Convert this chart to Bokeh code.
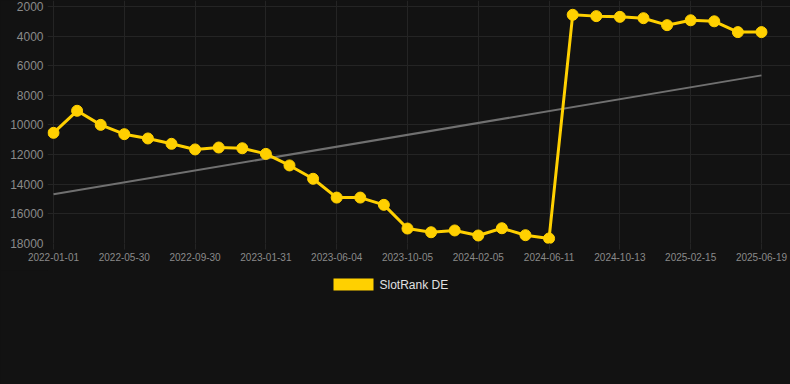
from bokeh.plotting import figure
from bokeh.layouts import column
from bokeh.models import (Range1d, FixedTicker, ColumnDataSource, Label, BoxAnnotation)
from bokeh.embed import file_html
from bokeh.resources import INLINE

# ---- data ----
tick_labels = ["2022-01-01", "2022-05-30", "2022-09-30", "2023-01-31", "2023-06-04",
               "2023-10-05", "2024-02-05", "2024-06-11", "2024-10-13", "2025-02-15",
               "2025-06-19"]
ranks = [10530, 9040, 9990, 10620, 10910, 11270, 11650, 11520, 11570, 11950,
         12730, 13630, 14900, 14900, 15390, 16990, 17240, 17120, 17460, 16970,
         17440, 17660, 2560, 2650, 2700, 2790, 3260, 2930, 3000, 3730, 3730]
trend_values = [14680, 6650]
y_ticks = [2000, 4000, 6000, 8000, 10000, 12000, 14000, 16000, 18000]
series_name = "SlotRank DE"

idx = list(range(len(ranks)))
tick_idx = idx[::3]
trend_idx = [idx[0], idx[-1]]

BG = "#121212"
GRID = "#242424"
YELLOW = "#FFD000"
FONT = "Liberation Sans"

p = figure(frame_width=743, frame_height=243, output_backend="svg", toolbar_location=None,
           x_range=Range1d(-0.254, 31.23), y_range=Range1d(18000, 1595),
           min_border_left=47, min_border_right=0, min_border_top=0,
           min_border_bottom=27)
p.background_fill_color = BG
p.border_fill_color = BG
p.outline_line_color = None

# axes
p.xaxis.ticker = FixedTicker(ticks=tick_idx)
p.xaxis.major_label_overrides = {i: lab for i, lab in zip(tick_idx, tick_labels)}
p.xaxis.major_label_text_font = FONT
p.xaxis.major_label_text_font_size = "10px"
p.xaxis.major_label_text_color = "#8a8a8a"
p.xaxis.axis_line_color = None
p.xaxis.major_tick_out = 6
p.xaxis.major_tick_in = 0
p.xaxis.major_tick_line_color = GRID
p.xaxis.minor_tick_line_color = None
p.xaxis.major_label_standoff = 3

p.yaxis.ticker = FixedTicker(ticks=y_ticks)
p.yaxis.major_label_text_font = FONT
p.yaxis.major_label_text_font_size = "12px"
p.yaxis.major_label_text_color = "#8a8a8a"
p.yaxis.axis_line_color = None
p.yaxis.major_tick_line_color = None
p.yaxis.minor_tick_line_color = None
p.yaxis.major_tick_out = 0
p.yaxis.major_label_standoff = 4

p.xgrid.grid_line_color = GRID
p.ygrid.grid_line_color = GRID

# trend line
p.line(trend_idx, trend_values, line_color="#707070", line_width=2)

# main series
src = ColumnDataSource(dict(x=idx, y=ranks))
p.line("x", "y", source=src, line_color=YELLOW, line_width=3)
p.scatter("x", "y", source=src, size=11, fill_color=YELLOW, line_color=YELLOW)

# ---- legend strip (separate figure below the chart; ranges in pixels) ----
lg = figure(frame_width=743, frame_height=114, output_backend="svg", toolbar_location=None,
            x_axis_type=None, y_axis_type=None,
            x_range=Range1d(0, 743), y_range=Range1d(0, 114),
            min_border_left=47, min_border_right=0, min_border_top=0, min_border_bottom=0)
lg.background_fill_color = BG
lg.border_fill_color = BG
lg.outline_line_color = None
lg.add_layout(BoxAnnotation(left=286, right=326, bottom=94, top=106,
                            fill_color=YELLOW, fill_alpha=1.0, line_color=None))
lg.add_layout(Label(x=332, y=100, text=series_name, text_baseline="middle",
                    text_align="left", text_font=FONT, text_font_size="12px",
                    text_color="#e0e0e0"))

layout = column(p, lg, spacing=0, styles={"background-color": BG})
open("out.html", "w").write(file_html(layout, INLINE))
